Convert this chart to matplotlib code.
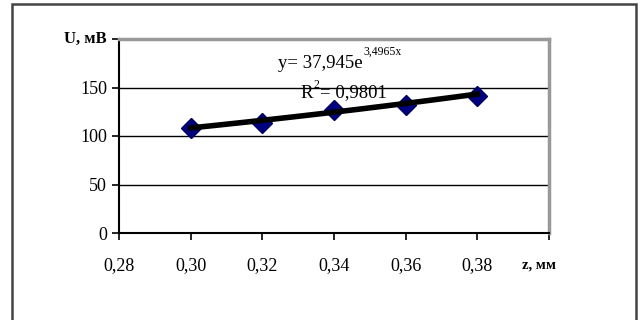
import numpy as np
import matplotlib.pyplot as plt
from matplotlib.patches import Rectangle

# Данные
z = [0.30, 0.32, 0.34, 0.36, 0.38]
u = [108, 113, 127, 132, 141]
fit_a, fit_b = 37.945, 3.4965
x_ticks = [0.28, 0.30, 0.32, 0.34, 0.36, 0.38, 0.40]
x_labels = ['0,28', '0,30', '0,32', '0,34', '0,36', '0,38', '']
y_ticks = [0, 50, 100, 150, 200]
y_labels = ['0', '50', '100', '150', '']

plt.rcParams['font.family'] = ['Liberation Serif', 'DejaVu Serif']

W, H = 641, 320
fig = plt.figure(figsize=(W / 100, H / 100), dpi=100)

# рамка вокруг рисунка
fig.patches.append(Rectangle((12 / W, -0.1), (636 - 12) / W, 1.1 - 4 / H,
                             transform=fig.transFigure, fill=False,
                             edgecolor='#444444', linewidth=1.8))

ax = fig.add_axes([119 / W, 1 - 233 / H, (549 - 119) / W, (233 - 39) / H])

# линия тренда
xs = np.linspace(z[0], z[-1], 50)
ax.plot(xs, fit_a * np.exp(fit_b * xs), color='black', lw=4, zorder=3)
ax.plot(z, u, linestyle='none', marker='D', ms=10, color='#000080',
        markeredgecolor='#000060', zorder=2)

ax.set_xlim(0.28, 0.40)
ax.set_ylim(0, 200)
ax.set_xticks(x_ticks)
ax.set_xticklabels(x_labels)
ax.set_yticks(y_ticks)
ax.set_yticklabels(y_labels)
ax.tick_params(labelsize=13, length=5, width=1.2, direction='out')
ax.tick_params(axis='x', pad=12)

for yv in [50, 100, 150]:
    ax.axhline(yv, color='black', lw=1, zorder=1)

ax.spines['left'].set_linewidth(1.5)
ax.spines['bottom'].set_linewidth(1.5)
ax.spines['top'].set_color('#999999')
ax.spines['right'].set_color('#999999')
ax.spines['top'].set_linewidth(2.5)
ax.spines['right'].set_linewidth(2.5)

fig.text(107 / W, 1 - 39 / H, 'U, мВ', ha='right', va='center',
         fontsize=12, fontweight='bold')
fig.text(522 / W, 1 - 265 / H, 'z, мм', ha='left', va='center',
         fontsize=10.5, fontweight='bold')

# уравнение тренда
fig.text(363 / W, 1 - 64 / H, 'y= 37,945e', ha='right', va='center',
         fontsize=13.5)
fig.text(363 / W, 1 - 52 / H, '3,4965x', ha='left', va='center',
         fontsize=8.5)
fig.text(313 / W, 1 - 93 / H, 'R', ha='right', va='center', fontsize=13.5)
fig.text(313 / W, 1 - 85 / H, '2', ha='left', va='center', fontsize=8.5)
fig.text(320 / W, 1 - 93 / H, '= 0,9801', ha='left', va='center',
         fontsize=13.5)

plt.savefig('out.png', dpi=100)
